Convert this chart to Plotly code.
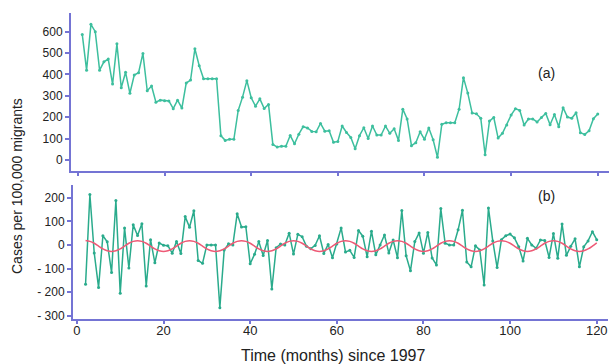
import plotly.graph_objects as go

# ---- data ----
months_a = list(range(1, 121))
cases_a = [587, 420, 634, 600, 420, 459, 472, 355, 543, 338,
           410, 312, 397, 408, 498, 324, 346, 270, 280, 277,
           276, 240, 280, 243, 360, 374, 520, 441, 380, 380,
           380, 380, 114, 92, 97, 97, 232, 294, 371, 291,
           252, 286, 241, 260, 73, 61, 65, 65, 115, 76,
           121, 156, 150, 134, 132, 171, 135, 137, 83, 87,
           159, 129, 106, 53, 114, 151, 101, 159, 117, 117,
           159, 125, 146, 92, 238, 192, 67, 81, 132, 97,
           150, 95, 13, 167, 174, 174, 174, 238, 385, 313,
           220, 216, 195, 25, 182, 199, 103, 125, 164, 210,
           240, 232, 164, 192, 192, 178, 199, 218, 165, 213,
           156, 245, 201, 195, 221, 128, 120, 137, 193, 215]

months_b = list(range(2, 121))
resid_b = [-167, 214, -34, -180, 39, 13, -117, 188, -205, 72,
           -98, 85, 40, 90, -174, 22, -76, 8, -1, -3,
           -35, 15, -36, 120, 75, 145, -66, -78, 0, 0,
           0, -266, -22, 5, 0, 132, 76, 77, -80, -40,
           14, -45, 19, -187, -12, 4, 0, 50, -39, 45,
           35, -6, -16, -2, 39, -36, 2, -54, 4, 72,
           -30, -23, -53, 61, 37, -50, 58, -42, 0, 42,
           -34, 21, -54, 146, -46, -110, 14, 51, -35, 53,
           -55, -85, 154, 7, 0, 0, 64, 147, -72, -93,
           -4, -21, -170, 157, 17, -96, 22, 39, 46, 30,
           -8, -68, 28, 0, -14, 21, 19, -53, 48, -57,
           89, -44, -6, 26, -93, -8, 17, 56, 22]

fit_b = [19, 15, 7, -5, -17, -25, -28, -25, -17, -5, 7, 15,
         18, 15, 7, -5, -17, -25, -28, -25, -17, -5, 7, 15,
         18, 15, 7, -5, -17, -25, -28, -25, -17, -5, 7, 15,
         18, 15, 7, -5, -17, -25, -28, -25, -17, -5, 7, 15,
         18, 15, 7, -5, -17, -25, -28, -25, -17, -5, 7, 15,
         18, 15, 7, -5, -17, -25, -28, -25, -17, -5, 7, 15,
         18, 15, 7, -5, -17, -25, -28, -25, -17, -5, 7, 15,
         18, 15, 7, -5, -17, -25, -28, -25, -17, -5, 7, 15,
         18, 15, 7, -5, -17, -25, -28, -25, -17, -5, 7, 15,
         18, 15, 7, -5, -17, -25, -28, -25, -17, -5, 9]

x_ticks = [0, 20, 40, 60, 80, 100, 120]
y_ticks_a = [0, 100, 200, 300, 400, 500, 600]
y_ticks_b = [200, 100, 0, -100, -200, -300]
y_text_b = ["200", "100", "0", "- 100", "- 200", "- 300"]

GREEN_A = "#3dbf9e"
GREEN_B = "#2aab8c"
RED = "#ee5a76"
AXIS = "#7474d4"
TXT = "#222222"
FONT = "Liberation Sans, Arial, sans-serif"

fig = go.Figure()
fig.add_trace(go.Scatter(x=months_a, y=cases_a, mode="lines+markers",
                         line=dict(color=GREEN_A, width=1.5),
                         marker=dict(size=3, color=GREEN_A),
                         xaxis="x", yaxis="y", showlegend=False))
fig.add_trace(go.Scatter(x=months_b, y=resid_b, mode="lines+markers",
                         line=dict(color=GREEN_B, width=1.5),
                         marker=dict(size=3, color=GREEN_B),
                         xaxis="x2", yaxis="y2", showlegend=False))
fig.add_trace(go.Scatter(x=months_b, y=fit_b, mode="lines",
                         line=dict(color=RED, width=1.5, shape="spline"),
                         xaxis="x2", yaxis="y2", showlegend=False))

W, H = 616, 364
common_axis = dict(showline=True, linecolor=AXIS, linewidth=2,
                   showgrid=False, zeroline=False, ticks="outside",
                   tickcolor=AXIS, tickwidth=1.5, automargin=False)


def note(text, x, y, size, angle=0):
    return dict(text=text, x=x / W, y=1 - y / H, xref="paper", yref="paper",
                xanchor="center", yanchor="middle", showarrow=False,
                textangle=angle, font=dict(size=size, color=TXT))


fig.update_layout(
    width=W, height=H,
    margin=dict(l=0, r=0, t=0, b=0, pad=0),
    paper_bgcolor="white", plot_bgcolor="white",
    font=dict(family=FONT, color=TXT),
    xaxis=dict(domain=[71 / W, 609 / W], anchor="y", range=[-1.6, 122.6],
               tickvals=x_ticks, showticklabels=False, ticklen=3, **common_axis),
    yaxis=dict(domain=[1 - 171 / H, 1 - 13 / H], anchor="x", range=[-51, 687],
               tickvals=y_ticks_a, ticklen=4, tickfont=dict(size=12, color=TXT),
               **common_axis),
    xaxis2=dict(domain=[73 / W, 608 / W], anchor="y2", range=[-0.9, 122.6],
                tickvals=x_ticks, ticklen=3, tickfont=dict(size=13, color=TXT),
                ticklabelstandoff=-5, **common_axis),
    yaxis2=dict(domain=[1 - 319 / H, 1 - 185 / H], anchor="x2", range=[-314, 254],
                tickvals=y_ticks_b, ticktext=y_text_b, ticklen=4,
                tickfont=dict(size=12, color=TXT), **common_axis),
    annotations=[
        note("(a)", 546, 73, 14),
        note("(b)", 546, 196, 14),
        note("Cases per 100,000 migrants", 17, 186, 14, -90),
        note("Time (months) since 1997", 333, 355, 16),
    ],
)

fig.write_html("out.html", config={"displayModeBar": False},
               post_script="document.body.style.margin='0';document.body.style.padding='0';")
